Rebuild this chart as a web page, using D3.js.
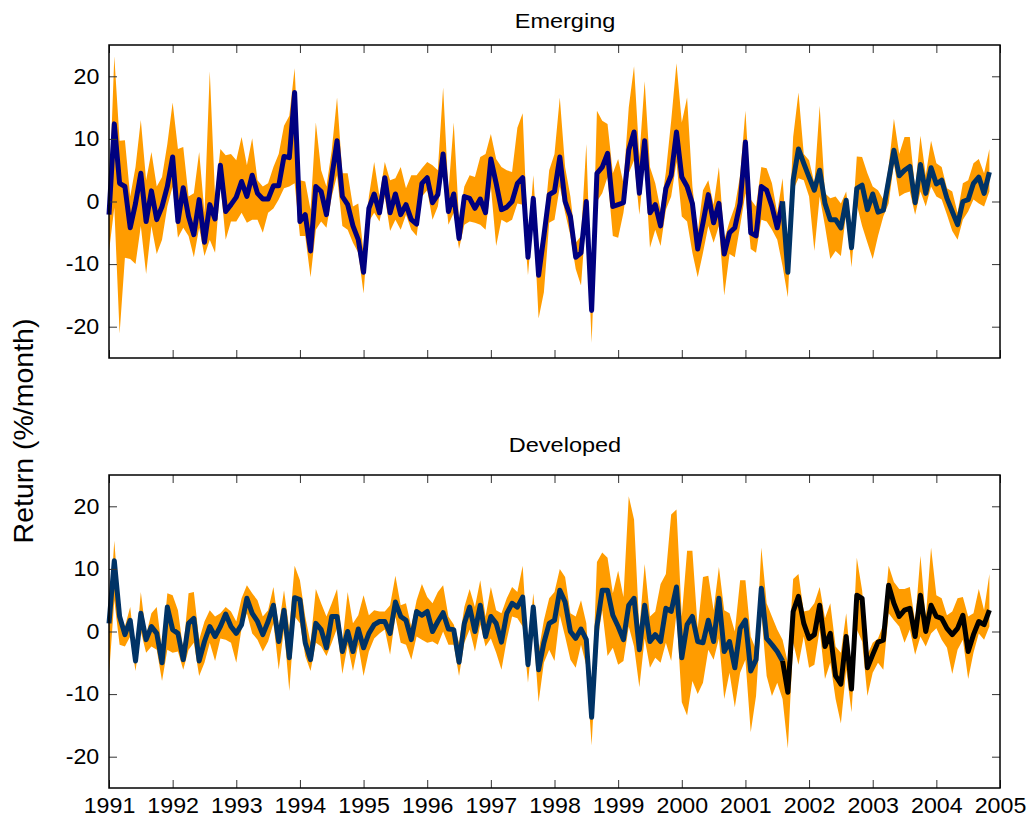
<!DOCTYPE html>
<html>
<head>
<meta charset="utf-8">
<script src="https://cdn.jsdelivr.net/npm/d3@7"></script>
<style>
body{margin:0;background:#fff;}
text{font-family:"Liberation Sans",Arial,sans-serif;fill:#000;}
</style>
</head>
<body>
<div id="chart"></div>
<script>
// monthly returns, Jan 1991 onwards (%/month)
var startYear = 1991;
var yearTicks = [1991,1992,1993,1994,1995,1996,1997,1998,1999,2000,2001,2002,2003,2004,2005];
var returnTicks = [-20,-10,0,10,20];
var splitIndex = 127; // colour of the line changes here

var emgReturn = [-2.1,12.4,2.9,2.4,-4.2,-0.3,4.5,-3.2,1.7,-2.9,
 -0.8,2.4,7.1,-3.2,2.2,-2.4,-5.3,0.3,-6.5,-0.5,
 -2.8,5.8,-1.6,-0.5,0.7,3.2,0.8,4.2,1.3,0.4,
 0.4,2.5,2.5,7.2,7.0,17.4,-3.2,-2.1,-7.9,2.4,
 1.6,-2.1,3.9,9.7,0.8,-0.5,-3.9,-6.1,-11.3,-1.1,
 1.2,-1.8,3.8,-1.8,1.2,-2.1,-0.5,-2.9,-3.6,2.9,
 3.8,-0.2,1.1,7.6,-1.6,1.2,-5.9,0.8,0.5,-1.1,
 0.4,-1.8,6.8,2.9,-1.3,-0.9,0,2.9,3.8,-8.9,
 0.5,-11.8,-5.5,1.1,1.6,7.1,0,-2.4,-8.9,-8.2,
 0,-17.4,4.5,5.5,7.7,-0.8,-0.5,-0.2,8.2,11.1,
 1.3,9.7,-1.8,-0.5,-3.9,2.1,4.2,11.1,3.9,2.4,
 -0.3,-7.6,-3.4,1.1,-3.4,-0.3,-8.4,-5.0,-4.2,-0.3,
 9.5,-5.0,-5.5,2.4,1.8,-0.8,-4.2,0,-11.3,3.4,
 8.4,6.1,3.9,1.8,5.0,-0.3,-2.9,-2.9,-4.2,0.2,
 -7.4,2.1,2.6,-1.3,1.2,-1.7,-1.4,3.4,8.2,4.1,
 5.0,5.6,-0.2,5.9,1.3,5.4,2.8,3.4,0.5,-1.6,
 -3.7,0,0.3,2.9,3.9,1.3,4.7];

var emgUpper = [0,23.2,9.7,9.8,0.8,5.5,13.0,3.4,7.9,2.4,
 3.9,9.2,15.8,8.4,8.7,0.8,1.3,7.9,-1.8,20.8,
 0.8,8.4,7.4,7.6,6.6,10.3,5.8,10.1,3.4,2.4,
 2.9,5.5,7.6,12.1,13.7,21.3,3.4,3.2,-1.3,12.6,
 5.0,2.4,8.2,16.6,4.5,4.5,-0.8,-0.3,-8.2,0.8,
 6.3,0.8,6.3,3.4,3.7,5.5,2.1,4.2,4.2,5.3,
 6.3,5.8,5.0,18.2,1.6,12.6,-2.9,2.4,4.2,3.9,
 7.1,7.6,10.8,6.8,5.5,5.0,4.7,11.8,14.1,-7.1,
 4.2,-8.7,-3.9,5.0,7.6,16.6,5.5,0.8,-6.6,-5.5,
 9.2,-16.1,14.5,12.9,12.4,4.5,6.8,2.9,15.0,21.6,
 7.1,19.2,5.5,2.9,-1.3,4.7,12.9,22.1,12.6,16.6,
 2.4,-5.0,1.8,3.4,-0.5,5.5,-6.1,-3.2,-0.8,4.2,
 14.5,0.3,-0.8,5.5,5.3,2.9,-1.8,3.7,-8.2,10.3,
 17.4,7.6,6.6,2.9,15.3,1.3,0.5,0.8,-0.3,1.6,
 -5.5,7.2,7.1,4.5,2.4,1.8,0.3,5.5,13.2,7.6,
 10.3,10.3,2.1,10.5,4.2,9.7,6.1,5.5,2.1,1.6,
 -1.8,2.9,3.4,6.1,6.8,4.5,8.4];

var emgLower = [-8,-1,-21.1,-9,-9.2,-10.0,-3.9,-11.6,-3.9,-8.4,
 -6.1,-0.8,2.4,-5.8,-4.2,-5.5,-8.9,-4.2,-8.7,-6.1,
 -8.2,2.9,-6.1,-3.2,-3.2,-1.8,-3.4,-2.9,-2.9,-5.0,
 -1.8,-1.1,0.3,2.1,2.4,2.9,-5.5,-5.5,-12.1,-4.5,
 -3.2,-4.2,0.8,4.2,-3.9,-4.5,-6.6,-8.2,-14.7,-3.2,
 -1.8,-3.2,0.8,-4.7,-2.9,-4.5,-2.1,-4.5,-5.5,0.8,
 1.8,-2.9,-0.8,5.0,-3.7,-1.8,-7.6,-3.7,-3.2,-3.4,
 -3.7,-4.5,2.4,-7.1,-2.9,-3.4,-2.9,-0.3,-0.5,-11.8,
 -1.8,-18.7,-14.5,-3.4,-2.9,2.4,-1.8,-5.5,-10.8,-13.4,
 -1.8,-22.6,0,1.3,3.9,-5.5,-5.8,-1.8,4.5,6.6,
 -2.1,6.6,-7.4,-4.5,-7.1,-1.3,0.8,6.3,-2.4,-3.2,
 -8.2,-12.1,-8.2,-3.9,-6.6,-3.9,-15.0,-8.4,-8.9,-3.9,
 1.3,-7.6,-8.2,-2.9,-3.2,-4.5,-6.1,-10.3,-15.3,1.8,
 3.7,3.4,0.8,-7.9,0.8,-3.9,-9.2,-7.9,-8.7,-1.8,
 -10.5,-0.5,-3.9,-6.6,-9.2,-5.5,-2.4,-0.3,6.1,0.8,
 1.3,1.6,-2.1,1.6,-0.8,2.4,0.8,0.3,-2.1,-4.7,
 -6.1,-2.9,-1.6,0.3,-0.3,-0.8,1.6];

var devReturn = [1.3,11.3,2.4,-0.5,1.8,-4.7,2.9,-1.3,0.8,-0.3,
 -5.0,3.9,0.3,-0.3,-4.5,1.3,2.1,-4.7,-1.6,0.8,
 -0.8,0.8,2.8,0.8,-0.3,1.1,5.3,2.9,1.6,-0.5,
 1.6,4.2,-1.6,3.4,-4.2,5.4,5.1,-1.8,-4.5,1.3,
 0.3,-2.6,2.4,2.4,-3.2,0,-3.2,0.4,-2.6,-0.3,
 1.1,1.6,1.6,-0.3,4.7,2.4,1.8,-1.3,3.2,2.6,
 3.2,0,1.6,3.0,0.4,0.3,-4.9,1.3,3.9,0,
 4.2,-0.8,2.4,1.3,-1.7,2.9,4.5,3.9,5.5,-5.3,
 3.9,-6.1,-1.8,1.3,1.8,6.6,4.7,0,-1.1,0.4,
 -1.3,-13.7,0.8,6.6,6.6,2.6,0.8,-1.3,4.2,5.3,
 -2.9,4.2,-1.6,-0.5,-1.6,3.7,3.2,7.1,-4.2,1.1,
 2.4,-1.6,-1.8,1.8,-1.6,5.3,-3.2,-1.6,-5.8,0.5,
 1.8,-6.3,-4.5,6.9,-1.1,-2.1,-3.2,-4.7,-9.7,3.2,
 5.6,1.3,-1.1,-0.5,4.2,-2.4,-0.3,-7.1,-8.4,-0.8,
 -9.2,5.8,5.3,-5.8,-3.7,-1.7,-1.4,7.4,4.5,2.4,
 3.4,3.7,-0.8,5.8,0,4.2,2.4,2.1,0.5,-0.5,
 0.5,2.6,-3.2,-0.5,1.6,1.1,3.4];

var devUpper = [1.5,14.5,3.0,0.8,3.9,-3.9,6.3,-0.5,2.9,3.9,
 -2.9,6.1,5.8,3.4,-2.9,6.1,6.3,-1.3,1.6,3.4,
 2.4,2.9,3.9,3.2,1.6,5.3,7.4,6.1,5.0,2.4,
 3.4,7.1,0.8,6.6,0.3,10.5,8.2,2.4,-1.8,6.8,
 4.5,2.4,4.5,6.8,-1.8,6.3,1.3,2.6,5.8,2.6,
 3.4,3.2,3.2,4.2,8.9,4.2,4.5,0.8,5.0,7.6,
 5.5,4.5,6.3,7.4,2.4,1.1,-1.8,3.9,6.8,3.9,
 8.2,2.4,7.1,3.4,2.9,5.3,7.1,6.3,10.5,-3.4,
 6.1,-3.2,1.8,5.3,6.3,10.0,8.7,2.9,2.4,5.0,
 1.3,-11.3,11.1,12.6,11.8,6.1,9.7,5.5,21.6,17.9,
 0.3,10.8,2.4,3.2,7.6,9.2,18.7,19.5,2.4,12.9,
 12.9,0.5,8.7,8.9,3.4,10.3,3.4,2.9,0,8.2,
 8.2,-0.8,-2.9,13.4,4.5,2.4,0.3,-1.3,-5.0,8.4,
 9.2,3.2,3.4,4.5,7.1,2.1,4.5,-2.4,-3.4,2.9,
 -6.1,11.8,6.6,-3.7,-1.8,-1.1,1.1,10.5,7.9,6.8,
 6.8,7.1,1.6,12.1,2.1,13.4,5.8,5.3,2.6,3.2,
 5.3,5.5,2.4,2.9,6.8,3.4,9.2];

var devLower = [-7,5.0,-2.1,-2.4,-0.8,-6.3,0,-3.4,-2.4,-2.9,
 -7.9,-2.9,-3.4,-3.2,-6.1,-2.9,-1.8,-7.1,-5.0,-1.8,
 -4.7,-1.1,-1.3,-1.8,-5.0,0.5,2.9,-0.3,-1.3,-3.2,
 -1.6,1.3,-6.1,0.3,-9.5,2.4,1.3,-3.9,-6.3,-1.8,
 -2.4,-3.9,-1.8,0.5,-6.8,-2.1,-6.3,-2.1,-7.1,-3.2,
 -1.1,-0.3,0.3,-3.7,2.4,-1.8,-2.1,-4.5,-0.8,-1.3,
 -1.8,-1.6,-2.1,0,-2.1,-2.1,-7.1,-1.8,0.3,-3.2,
 1.1,-2.4,-1.1,-3.4,-6.1,-1.3,2.4,2.1,0.8,-8.2,
 0.3,-11.3,-5.0,-2.9,-4.7,2.6,-0.8,-4.5,-5.8,-2.1,
 -5.5,-18.2,-2.0,3.4,-3.9,-2.6,-5.3,-4.7,0.8,-2.4,
 -8.9,-1.1,-5.8,-4.2,-5.0,-1.8,-4.7,2.9,-11.3,-13.4,
 -7.9,-10.0,-8.2,-2.9,-4.5,-1.1,-10.8,-6.6,-12.1,-6.6,
 -4.5,-16.1,-10.3,2.9,-7.1,-10.3,-8.2,-10.8,-18.7,-1.8,
 -5.3,-0.8,-5.8,-5.3,0.3,-7.6,-5.0,-10.8,-14.7,-6.1,
 -12.9,0.3,-1.6,-10.3,-6.6,-5.0,-6.1,2.9,1.8,0.8,
 -1.8,0.3,-3.7,-0.8,-2.4,-0.3,0.5,-1.3,-2.6,-6.8,
 -2.9,-1.3,-7.6,-3.4,-0.3,-1.3,0.8];

var W = 1032, H = 820;
var bandColor = "#ff9c00";
var sx = 1.08; // the original's text is slightly wide

var panels = [
	{ title: "Emerging", top: 45, bottom: 358, titleY: 28, mid: emgReturn, hi: emgUpper, lo: emgLower,
	  colors: ["#000080", "#003366"], labels: false },
	{ title: "Developed", top: 475, bottom: 788, titleY: 452, mid: devReturn, hi: devUpper, lo: devLower,
	  colors: ["#003366", "#000000"], labels: true }
];

var svg = d3.select("#chart").append("svg")
	.attr("width", W).attr("height", H);

var x = d3.scaleLinear().domain([1991, 2005]).range([109, 1000]);
function t(i){ return startYear + i / 12; }
function plain(d){ return String(d); } // hyphen minus, as in the original

panels.forEach(function(p){
	var y = d3.scaleLinear().domain([-25, 25]).range([p.bottom, p.top]);
	var g = svg.append("g");
	var idx = d3.range(p.mid.length);

	var area = d3.area()
		.x(function(i){ return x(t(i)); })
		.y0(function(i){ return y(p.lo[i]); })
		.y1(function(i){ return y(p.hi[i]); });

	g.append("path").datum(idx)
		.attr("d", area)
		.attr("fill", bandColor);

	var line = d3.line()
		.x(function(i){ return x(t(i)); })
		.y(function(i){ return y(p.mid[i]); });

	var segs = [idx.slice(0, splitIndex + 1), idx.slice(splitIndex)];
	segs.forEach(function(s, k){
		g.append("path").datum(s)
			.attr("d", line)
			.attr("fill", "none")
			.attr("stroke", p.colors[k])
			.attr("stroke-width", 5)
			.attr("stroke-linejoin", "round");
	});

	// axes, ticks pointing inward
	g.append("g").attr("transform", "translate(0," + p.bottom + ")")
		.call(d3.axisBottom(x).tickValues(yearTicks).tickSize(-8).tickPadding(10)
			.tickFormat(p.labels ? plain : ""));
	g.append("g").attr("transform", "translate(0," + p.top + ")")
		.call(d3.axisTop(x).tickValues(yearTicks).tickSize(-8).tickFormat(""));
	g.append("g").attr("transform", "translate(109,0)")
		.call(d3.axisLeft(y).tickValues(returnTicks).tickSize(-8).tickPadding(9).tickFormat(plain));
	g.append("g").attr("transform", "translate(1000,0)")
		.call(d3.axisRight(y).tickValues(returnTicks).tickSize(-8).tickFormat(""));

	g.selectAll(".domain").remove();
	g.selectAll(".tick line").attr("stroke", "#333").attr("stroke-width", 1);
	g.selectAll(".tick text")
		.attr("font-size", 21.5)
		.attr("font-family", "Liberation Sans, Arial, sans-serif")
		.attr("fill", "#000")
		.attr("transform", "scale(" + sx + ",1)");

	g.append("rect")
		.attr("x", 109).attr("y", p.top)
		.attr("width", 1000 - 109).attr("height", p.bottom - p.top)
		.attr("fill", "none").attr("stroke", "#000").attr("stroke-width", 1.5);

	svg.append("text")
		.attr("transform", "translate(565," + p.titleY + ") scale(1.12,1)")
		.attr("text-anchor", "middle")
		.attr("font-size", 21)
		.text(p.title);
});

svg.append("text")
	.attr("transform", "translate(33,431) rotate(-90)")
	.attr("text-anchor", "middle")
	.attr("font-size", 28.5)
	.text("Return (%/month)");
</script>
</body>
</html>
